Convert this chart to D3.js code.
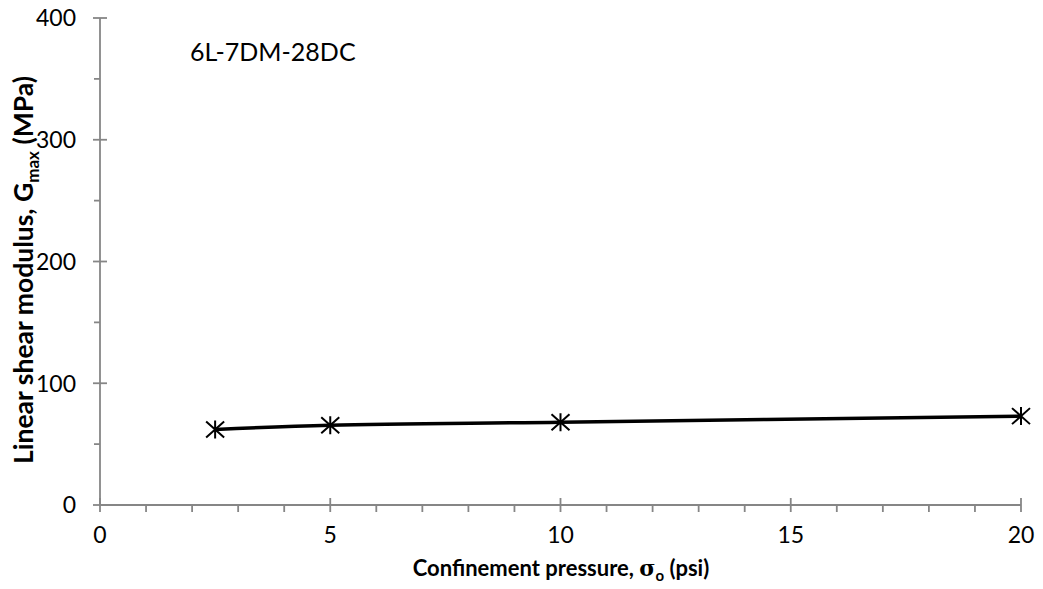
<!DOCTYPE html>
<html>
<head>
<meta charset="utf-8">
<script src="https://cdn.jsdelivr.net/npm/d3@7"></script>
<style>
  html, body { margin: 0; padding: 0; background: #fff; }
  svg { display: block; }
  text { font-family: Lato, "Open Sans", sans-serif; fill: #000; }
</style>
</head>
<body>
<svg id="chart" width="1043" height="589"></svg>
<script>
// Confinement pressure (psi) and linear shear modulus Gmax (MPa)
const pressure = [2.5, 5, 10, 20];
const gmax = [62, 65.5, 68, 73];
const xTicks = [0, 5, 10, 15, 20];
const yTicks = [0, 100, 200, 300, 400];
const sampleLabel = "6L-7DM-28DC";

const svg = d3.select("#chart");
const axisColor = "#868686";
const axisWidth = 1.8;

const x = d3.scaleLinear().domain([0, 20]).range([100, 1021]);
const y = d3.scaleLinear().domain([0, 400]).range([505, 18]);

// Y axis: line, major ticks crossing the axis, minor ticks outside
const gy = svg.append("g");
gy.append("line")
  .attr("x1", x(0)).attr("x2", x(0))
  .attr("y1", y(0)).attr("y2", y(400))
  .attr("stroke", axisColor).attr("stroke-width", axisWidth);
gy.selectAll("line.major").data(yTicks).join("line")
  .attr("class", "major")
  .attr("x1", x(0) - 7).attr("x2", x(0) + 7)
  .attr("y1", d => y(d)).attr("y2", d => y(d))
  .attr("stroke", axisColor).attr("stroke-width", axisWidth);
gy.selectAll("line.minor").data(d3.range(50, 400, 100)).join("line")
  .attr("class", "minor")
  .attr("x1", x(0) - 6).attr("x2", x(0))
  .attr("y1", d => y(d)).attr("y2", d => y(d))
  .attr("stroke", axisColor).attr("stroke-width", axisWidth);
gy.selectAll("text").data(yTicks).join("text")
  .attr("x", 76).attr("y", d => y(d))
  .attr("dy", "0.36em")
  .attr("text-anchor", "end")
  .attr("font-size", 23)
  .text(d => d);

// X axis: line, major ticks crossing, minor ticks below
const gx = svg.append("g");
gx.append("line")
  .attr("x1", x(0)).attr("x2", x(20))
  .attr("y1", y(0)).attr("y2", y(0))
  .attr("stroke", axisColor).attr("stroke-width", axisWidth);
gx.selectAll("line.major").data(xTicks).join("line")
  .attr("class", "major")
  .attr("x1", d => x(d)).attr("x2", d => x(d))
  .attr("y1", y(0) - 7).attr("y2", y(0) + 7)
  .attr("stroke", axisColor).attr("stroke-width", axisWidth);
gx.selectAll("line.minor").data(d3.range(1, 20).filter(d => d % 5 !== 0)).join("line")
  .attr("class", "minor")
  .attr("x1", d => x(d)).attr("x2", d => x(d))
  .attr("y1", y(0)).attr("y2", y(0) + 7)
  .attr("stroke", axisColor).attr("stroke-width", axisWidth);
gx.selectAll("text").data(xTicks).join("text")
  .attr("x", d => x(d)).attr("y", 543)
  .attr("text-anchor", "middle")
  .attr("font-size", 23)
  .text(d => d);

// Axis titles
const xt = svg.append("text")
  .attr("x", 561).attr("y", 576)
  .attr("text-anchor", "middle")
  .attr("font-size", 22).attr("font-weight", "bold");
xt.append("tspan").text("Confinement pressure, ");
xt.append("tspan").attr("font-family", "'DejaVu Serif', serif").text("σ");
xt.append("tspan").attr("font-size", 15).attr("dy", 5).text("o");
xt.append("tspan").attr("dy", -5).text(" (psi)");

const yt = svg.append("text")
  .attr("transform", "translate(33,270) rotate(-90)")
  .attr("text-anchor", "middle")
  .attr("font-size", 26.5).attr("font-weight", "bold");
yt.append("tspan").text("Linear shear modulus, G");
yt.append("tspan").attr("font-size", 17).attr("dy", 6).text("max");
yt.append("tspan").attr("dy", -6).text(" (MPa)");

// Sample label
svg.append("text")
  .attr("x", 190).attr("y", 61)
  .attr("font-size", 25)
  .text(sampleLabel);

// Series line (smoothed)
const pts = pressure.map((p, i) => [p, gmax[i]]);
svg.append("path")
  .datum(pts)
  .attr("fill", "none")
  .attr("stroke", "#000")
  .attr("stroke-width", 3.5)
  .attr("d", d3.line().x(d => x(d[0])).y(d => y(d[1])).curve(d3.curveCatmullRom));

// Star markers: an X crossed by a vertical stroke
const starPath = "M-9,-8L9,8M-9,8L9,-8M0,-9L0,9";
svg.selectAll("path.mark").data(pts).join("path")
  .attr("class", "mark")
  .attr("transform", d => `translate(${x(d[0])},${y(d[1])})`)
  .attr("d", starPath)
  .attr("fill", "none")
  .attr("stroke", "#000")
  .attr("stroke-width", 2);
</script>
</body>
</html>
